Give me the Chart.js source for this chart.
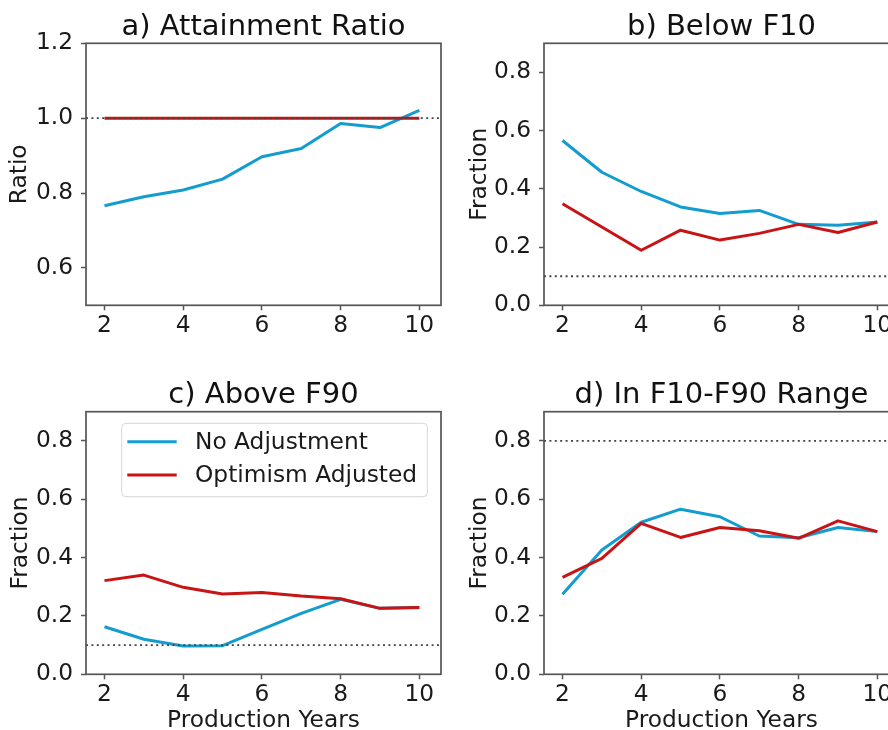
<!DOCTYPE html>
<html>
<head>
<meta charset="utf-8">
<script src="https://cdn.jsdelivr.net/npm/chart.js@4.4.1/dist/chart.umd.min.js"></script>
<style>
  html, body { margin: 0; padding: 0; background: #fff; overflow: hidden; }
  body { width: 888px; height: 730px; position: relative; }
  canvas { position: absolute; }
</style>
</head>
<body>
<canvas id="chartA" width="444" height="340" style="left:0;top:0"></canvas>
<canvas id="chartB" width="460" height="340" style="left:444px;top:0"></canvas>
<canvas id="chartC" width="444" height="400" style="left:0;top:350px"></canvas>
<canvas id="chartD" width="460" height="400" style="left:444px;top:350px"></canvas>
<script>
// production years on the x axis
const years = [2, 3, 4, 5, 6, 7, 8, 9, 10];
const xTicks = [2, 4, 6, 8, 10];

// a) attainment ratio
const ratioNoAdj  = [0.766, 0.790, 0.808, 0.837, 0.897, 0.919, 0.986, 0.975, 1.021];
const ratioOptAdj = [1.0, 1.0, 1.0, 1.0, 1.0, 1.0, 1.0, 1.0, 1.0];
const ratioTarget = 1.0;
const ratioTicks  = [0.6, 0.8, 1.0, 1.2];

// b) below F10
const belowNoAdj  = [0.566, 0.457, 0.391, 0.338, 0.315, 0.326, 0.278, 0.275, 0.286];
const belowOptAdj = [0.349, 0.269, 0.189, 0.258, 0.224, 0.247, 0.278, 0.250, 0.286];
const belowTarget = 0.1;

// c) above F90
const aboveNoAdj  = [0.163, 0.120, 0.097, 0.098, 0.154, 0.209, 0.257, 0.226, 0.229];
const aboveOptAdj = [0.321, 0.340, 0.298, 0.275, 0.280, 0.268, 0.259, 0.226, 0.229];
const aboveTarget = 0.1;

// d) inside the F10-F90 range
const rangeNoAdj  = [0.274, 0.426, 0.521, 0.566, 0.540, 0.474, 0.468, 0.503, 0.489];
const rangeOptAdj = [0.332, 0.397, 0.517, 0.469, 0.503, 0.492, 0.466, 0.526, 0.489];
const rangeTarget = 0.8;

const fractionTicks = [0.0, 0.2, 0.4, 0.6, 0.8];

const BLUE = '#139cd0';
const RED = '#c81414';
const FONT = '"DejaVu Sans", "Liberation Sans", sans-serif';
const TXT = 23.3;
const X_MIN = 1.53, X_MAX = 10.55;

// full box around the plot area, like matplotlib spines
const spinePlugin = {
  id: 'spines',
  afterDatasetsDraw(chart) {
    const { ctx, chartArea: a } = chart;
    ctx.save();
    ctx.strokeStyle = '#555';
    ctx.lineWidth = 1.7;
    ctx.strokeRect(a.left, a.top, a.right - a.left, a.bottom - a.top);
    ctx.restore();
  }
};

// panel title centred over the plot area
const titlePlugin = {
  id: 'panelTitle',
  afterDraw(chart, args, opts) {
    const { ctx, chartArea: a } = chart;
    ctx.save();
    ctx.font = '29px ' + FONT;
    ctx.fillStyle = '#111';
    ctx.textAlign = 'center';
    ctx.textBaseline = 'alphabetic';
    ctx.fillText(opts.text, (a.left + a.right) / 2, a.top - 8.5);
    ctx.restore();
  }
};

// boxed legend inside the plot area (upper part)
const boxLegendPlugin = {
  id: 'boxLegend',
  afterDraw(chart, args, opts) {
    if (!opts.show) return;
    const { ctx, chartArea: a } = chart;
    const x = a.left + 35.7, y = a.top + 11.6, w = 305.6, h = 73.4;
    ctx.save();
    ctx.beginPath();
    ctx.roundRect(x, y, w, h, 4);
    ctx.fillStyle = 'rgba(255,255,255,0.8)';
    ctx.fill();
    ctx.strokeStyle = '#d6d6d6';
    ctx.lineWidth = 1;
    ctx.stroke();
    const items = chart.data.datasets.filter(d => d.inLegend);
    ctx.font = TXT + 'px ' + FONT;
    ctx.textBaseline = 'middle';
    ctx.textAlign = 'left';
    items.forEach((d, i) => {
      const ly = y + 18.4 + i * 33.3;
      ctx.beginPath();
      ctx.moveTo(x + 5.6, ly);
      ctx.lineTo(x + 55, ly);
      ctx.strokeStyle = d.borderColor;
      ctx.lineWidth = d.borderWidth;
      ctx.stroke();
      ctx.fillStyle = '#1a1a1a';
      ctx.fillText(d.label, x + 73.3, ly + 1);
    });
    ctx.restore();
  }
};

function pts(values) {
  return years.map((x, i) => ({ x: x, y: values[i] }));
}

function makePanel(id, cfg) {
  const canvas = document.getElementById(id);
  const tickFont = { family: FONT, size: TXT };
  return new Chart(canvas, {
    type: 'line',
    data: {
      datasets: [
        { label: 'No Adjustment', data: pts(cfg.noAdj), borderColor: BLUE, borderWidth: 3,
          pointRadius: 0, borderJoinStyle: 'round', order: 3, inLegend: true },
        { label: 'Optimism Adjusted', data: pts(cfg.optAdj), borderColor: RED, borderWidth: 3,
          pointRadius: 0, borderJoinStyle: 'round', order: 2, inLegend: true },
        { label: 'Target', data: [{ x: X_MIN, y: cfg.target }, { x: X_MAX, y: cfg.target }],
          borderColor: '#444', borderWidth: 1.9, borderDash: [2, 3.4], pointRadius: 0, order: 1 }
      ]
    },
    options: {
      responsive: false,
      animation: false,
      layout: { padding: { top: cfg.padTop, right: cfg.padRight, left: 0, bottom: 0 } },
      plugins: {
        legend: { display: false },
        tooltip: { enabled: false },
        panelTitle: { text: cfg.title },
        boxLegend: { show: !!cfg.legend }
      },
      scales: {
        x: {
          type: 'linear',
          min: X_MIN,
          max: X_MAX,
          afterBuildTicks: s => { s.ticks = xTicks.map(v => ({ value: v })); },
          afterFit: s => { s.height = cfg.xHeight; },
          border: { display: false },
          grid: { drawOnChartArea: false, tickLength: 5, tickWidth: 1.5, tickColor: '#555' },
          ticks: { font: tickFont, color: '#1a1a1a', padding: 2,
                   maxRotation: 0, autoSkip: false, callback: v => String(v) },
          title: { display: !!cfg.xLabel, text: cfg.xLabel || '', color: '#1a1a1a',
                   font: tickFont, padding: { bottom: 15 } }
        },
        y: {
          min: cfg.yMin,
          max: cfg.yMax,
          afterBuildTicks: s => { s.ticks = cfg.yTicks.map(v => ({ value: v })); },
          afterFit: s => { s.width = cfg.yWidth; },
          border: { display: false },
          grid: { drawOnChartArea: false, tickLength: 5, tickWidth: 1.5, tickColor: '#555' },
          ticks: { font: tickFont, color: '#1a1a1a', padding: 8,
                   callback: v => v.toFixed(1) },
          title: { display: true, text: cfg.yLabel, color: '#1a1a1a',
                   font: tickFont, padding: { top: cfg.yTitlePad } }
        }
      }
    },
    plugins: [spinePlugin, titlePlugin, boxLegendPlugin]
  });
}

makePanel('chartA', {
  title: 'a) Attainment Ratio', yLabel: 'Ratio',
  noAdj: ratioNoAdj, optAdj: ratioOptAdj, target: ratioTarget,
  yMin: 0.5, yMax: 1.2, yTicks: ratioTicks,
  padTop: 43.3, padRight: 3, xHeight: 34.7, yWidth: 86, yTitlePad: 6
});

makePanel('chartB', {
  title: 'b) Below F10', yLabel: 'Fraction',
  noAdj: belowNoAdj, optAdj: belowOptAdj, target: belowTarget,
  yMin: 0, yMax: 0.9, yTicks: fractionTicks,
  padTop: 43.3, padRight: 5, xHeight: 34.7, yWidth: 100, yTitlePad: 22
});

makePanel('chartC', {
  title: 'c) Above F90', yLabel: 'Fraction', xLabel: 'Production Years', legend: true,
  noAdj: aboveNoAdj, optAdj: aboveOptAdj, target: aboveTarget,
  yMin: 0, yMax: 0.9, yTicks: fractionTicks,
  padTop: 61.7, padRight: 3, xHeight: 75.7, yWidth: 86, yTitlePad: 6.5
});

makePanel('chartD', {
  title: 'd) In F10-F90 Range', yLabel: 'Fraction', xLabel: 'Production Years',
  noAdj: rangeNoAdj, optAdj: rangeOptAdj, target: rangeTarget,
  yMin: 0, yMax: 0.9, yTicks: fractionTicks,
  padTop: 61.7, padRight: 5, xHeight: 75.7, yWidth: 100, yTitlePad: 22
});
</script>
</body>
</html>
